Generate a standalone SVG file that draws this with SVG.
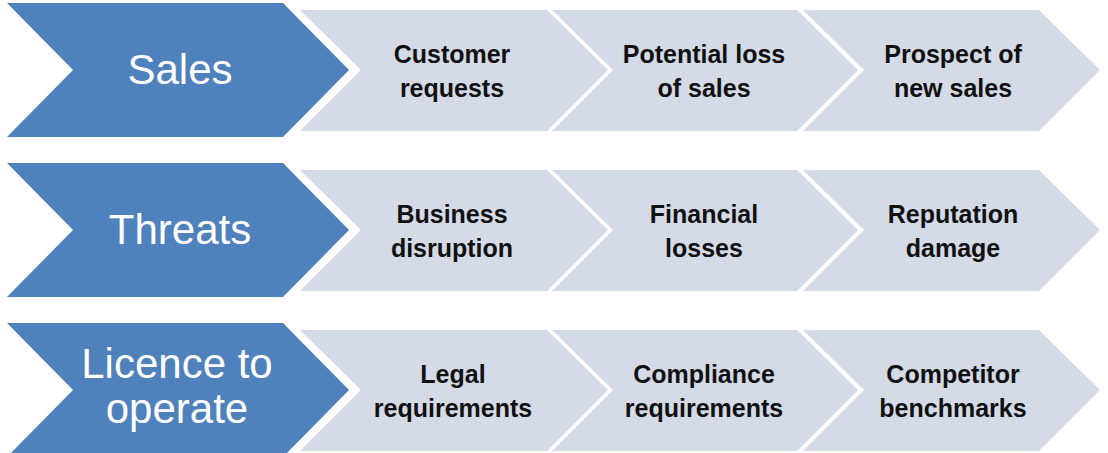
<svg xmlns="http://www.w3.org/2000/svg" width="1108" height="453" viewBox="0 0 1108 453">
  <style>
    .main { fill: #4F81BD; }
    .sub { fill: #D4DAE6; }
    .mt { font-family: "Liberation Sans", Arial, sans-serif; font-size: 42px; fill: #FFFFFF; text-anchor: middle; }
    .st { font-family: "Liberation Sans", Arial, sans-serif; font-size: 25px; font-weight: bold; fill: #111111; text-anchor: middle; }
  </style>
  <rect width="1108" height="453" fill="#FFFFFF"/>
  <g id="connectors"></g>

  <!-- Row 1: Sales -->
  <g id="sales">
    <polygon class="main" points="7,3 283,3 349,70 283,137 7,137 73,70"/>
    <text class="mt" x="180" y="84">Sales</text>
  </g>
  <g id="customer-requests">
    <polygon class="sub" points="300,10 547,10 608,70 547,131 300,131 361,70"/>
    <text class="st" x="452" y="63">Customer</text>
    <text class="st" x="452" y="97">requests</text>
  </g>
  <g id="potential-loss">
    <polygon class="sub" points="552,10 797,10 858,70 797,131 552,131 613,70"/>
    <text class="st" x="704" y="63">Potential loss</text>
    <text class="st" x="704" y="97">of sales</text>
  </g>
  <g id="prospect-new-sales">
    <polygon class="sub" points="803,10 1039,10 1100,70 1039,131 803,131 864,70"/>
    <text class="st" x="953" y="63">Prospect of</text>
    <text class="st" x="953" y="97">new sales</text>
  </g>

  <!-- Row 2: Threats -->
  <g id="threats">
    <polygon class="main" points="7,163 283,163 349,230 283,297 7,297 73,230"/>
    <text class="mt" x="180" y="244">Threats</text>
  </g>
  <g id="business-disruption">
    <polygon class="sub" points="300,170 547,170 608,230 547,291 300,291 361,230"/>
    <text class="st" x="452" y="223">Business</text>
    <text class="st" x="452" y="257">disruption</text>
  </g>
  <g id="financial-losses">
    <polygon class="sub" points="552,170 797,170 858,230 797,291 552,291 613,230"/>
    <text class="st" x="704" y="223">Financial</text>
    <text class="st" x="704" y="257">losses</text>
  </g>
  <g id="reputation-damage">
    <polygon class="sub" points="803,170 1039,170 1100,230 1039,291 803,291 864,230"/>
    <text class="st" x="953" y="223">Reputation</text>
    <text class="st" x="953" y="257">damage</text>
  </g>

  <!-- Row 3: Licence to operate -->
  <g id="licence-to-operate">
    <polygon class="main" points="7,323 283,323 349,390 283,457 7,457 73,390"/>
    <text class="mt" x="177" y="378">Licence to</text>
    <text class="mt" x="177" y="423">operate</text>
  </g>
  <g id="legal-requirements">
    <polygon class="sub" points="300,330 547,330 608,390 547,451 300,451 361,390"/>
    <text class="st" x="453" y="383">Legal</text>
    <text class="st" x="453" y="417">requirements</text>
  </g>
  <g id="compliance-requirements">
    <polygon class="sub" points="552,330 797,330 858,390 797,451 552,451 613,390"/>
    <text class="st" x="704" y="383">Compliance</text>
    <text class="st" x="704" y="417">requirements</text>
  </g>
  <g id="competitor-benchmarks">
    <polygon class="sub" points="803,330 1039,330 1100,390 1039,451 803,451 864,390"/>
    <text class="st" x="953" y="383">Competitor</text>
    <text class="st" x="953" y="417">benchmarks</text>
  </g>
</svg>
